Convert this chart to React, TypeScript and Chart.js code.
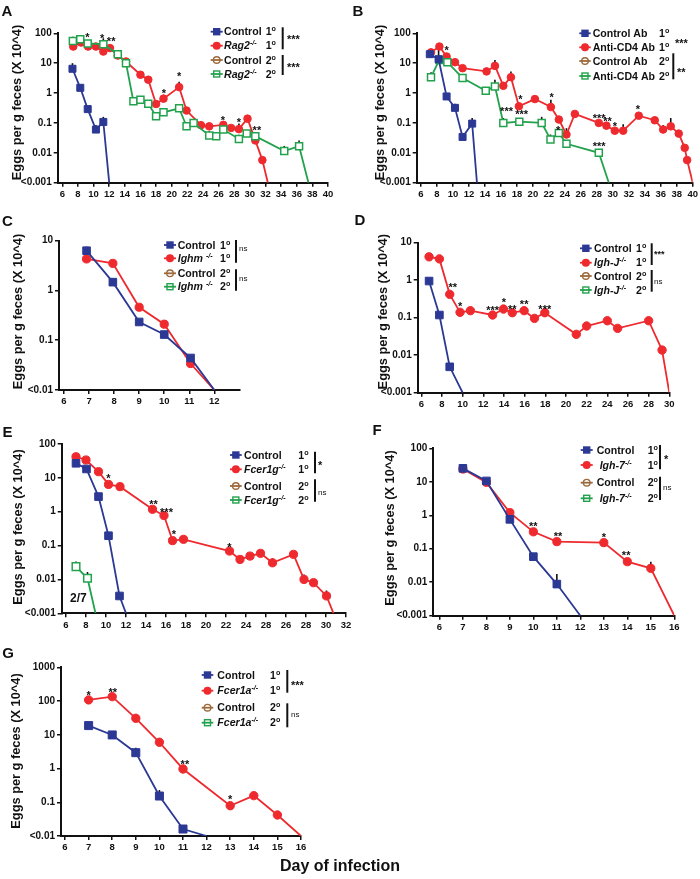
import { useEffect, useRef } from "react";
import { Chart, registerables } from "chart.js";

Chart.register(...registerables);

const FONT = '"Liberation Sans", Arial, Helvetica, sans-serif';
const COLORS = ["#2b3894", "#ee2a2f", "#9c6a3c", "#23a24d"];
const Y_TITLE = "Eggs per g feces (X 10^4)";
const X_TITLE = "Day of infection";

// ---------- tick values / labels ----------
const X_TICKS_6_40 = [6, 8, 10, 12, 14, 16, 18, 20, 22, 24, 26, 28, 30, 32, 34, 36, 38, 40];
const X_LABELS_6_40 = ["6", "8", "10", "12", "14", "16", "18", "20", "22", "24", "26", "28", "30", "32", "34", "36", "38", "40"];
const X_TICKS_C = [6, 7, 8, 9, 10, 11, 12];
const X_LABELS_C = ["6", "7", "8", "9", "10", "11", "12"];
const X_TICKS_D = [6, 8, 10, 12, 14, 16, 18, 20, 22, 24, 26, 28, 30];
const X_LABELS_D = ["6", "8", "10", "12", "14", "16", "18", "20", "22", "24", "26", "28", "30"];
const X_TICKS_E = [6, 8, 10, 12, 14, 16, 18, 20, 22, 24, 26, 28, 30, 32, 34];
const X_LABELS_E = ["6", "8", "10", "12", "14", "16", "18", "20", "22", "24", "28", "26", "28", "30", "32"];
const X_TICKS_6_16 = [6, 7, 8, 9, 10, 11, 12, 13, 14, 15, 16];
const X_LABELS_6_16 = ["6", "7", "8", "9", "10", "11", "12", "13", "14", "15", "16"];

const Y_TICKS_3_2 = [0.001, 0.01, 0.1, 1, 10, 100];
const Y_LABELS_3_2 = ["<0.001", "0.01", "0.1", "1", "10", "100"];
const Y_TICKS_C = [0.01, 0.1, 1, 10];
const Y_LABELS_C = ["<0.01", "0.1", "1", "10"];
const Y_TICKS_D = [0.001, 0.01, 0.1, 1, 10];
const Y_LABELS_D = ["<0.001", "0.01", "0.1", "1", "10"];
const Y_TICKS_G = [0.01, 0.1, 1, 10, 100, 1000];
const Y_LABELS_G = ["<0.01", "0.1", "1", "10", "100", "1000"];

// ---------- data: day of infection / eggs per g feces (x10^4) ----------
// error entries: [day, upper value of error bar]
// Panel A
const A_CTRL1_DAY = [7.3, 8.3, 9.25, 10.3, 11.25, 12];
const A_CTRL1_EGGS = [6.5, 1.5, 0.29, 0.06, 0.108, 0.001];
const A_CTRL1_ERR: [number, number][] = [[7.3, 10], [10.3, 0.085], [11.25, 0.16]];
const A_KO1_DAY = [7.4, 8.4, 9.3, 10.3, 11.25, 12.1, 13.1, 14.15, 16.0, 17.0, 18.0, 18.95, 20.95, 21.9, 23.75, 24.8, 26.6, 27.6, 28.6, 29.7, 30.7, 31.6, 32.3];
const A_KO1_EGGS = [36, 49, 36, 36, 24.5, 32, 18, 11.4, 4.1, 2.8, 0.43, 0.65, 1.58, 0.26, 0.084, 0.077, 0.086, 0.068, 0.062, 0.139, 0.026, 0.0057, 0.001];
const A_KO1_ERR: [number, number][] = [[14.15, 14.7], [16.0, 5], [17.0, 3.6], [18.95, 0.88], [20.95, 2.4], [26.6, 0.11], [28.6, 0.095]];
const A_KO2_DAY = [7.35, 8.3, 9.25, 11.25, 13.1, 14.15, 15.1, 16.0, 17.0, 18.0, 18.95, 20.95, 21.9, 22.8, 24.8, 25.7, 26.6, 28.6, 29.6, 30.7, 34.4, 36.3, 37.5];
const A_KO2_EGGS = [55, 63, 46, 43, 20, 10, 0.53, 0.6, 0.44, 0.167, 0.227, 0.31, 0.077, 0.1, 0.038, 0.036, 0.06, 0.029, 0.044, 0.036, 0.0114, 0.0167, 0.001];
const A_KO2_ERR: [number, number][] = [[7.35, 77], [11.25, 68], [24.8, 0.053], [28.6, 0.04], [30.7, 0.047], [34.4, 0.017], [36.3, 0.026]];
const A_STARS: [number, number, string][] = [[9.2, 88, "*"], [11.1, 81, "*"], [12.25, 65, "**"], [19.0, 1.22, "*"], [20.95, 4.4, "*"], [26.55, 0.154, "*"], [28.6, 0.129, "*"], [30.9, 0.07, "**"]];

// Panel B
const B_CTRL1_DAY = [7.1, 8.2, 9.2, 10.25, 11.2, 12.4, 13.0];
const B_CTRL1_EGGS = [20, 13.6, 0.77, 0.32, 0.034, 0.095, 0.001];
const B_CTRL1_ERR: [number, number][] = [[8.2, 28], [10.25, 0.44], [12.4, 0.146]];
const B_KO1_DAY = [7.25, 8.3, 9.2, 10.25, 11.2, 14.2, 15.25, 16.3, 17.25, 18.25, 20.25, 22.25, 23.25, 24.2, 25.25, 28.25, 29.2, 30.25, 31.3, 33.25, 35.25, 36.3, 37.25, 38.25, 39.0, 39.3, 40];
const B_KO1_EGGS = [23, 36, 16.7, 10.8, 6.8, 5.3, 8.1, 1.75, 3.4, 0.36, 0.63, 0.34, 0.13, 0.041, 0.2, 0.1, 0.081, 0.055, 0.055, 0.175, 0.123, 0.06, 0.077, 0.044, 0.0147, 0.0057, 0.001];
const B_KO1_ERR: [number, number][] = [[15.25, 12.9], [17.25, 5.3], [22.25, 0.6], [24.2, 0.067], [31.3, 0.09], [36.3, 0.085], [37.25, 0.146]];
const B_KO2_DAY = [7.25, 8.3, 9.3, 11.2, 14.1, 15.25, 16.3, 18.3, 21.1, 22.2, 23.25, 24.2, 28.25, 29.5];
const B_KO2_EGGS = [3.4, 12.9, 10.8, 3.2, 1.2, 1.67, 0.1, 0.11, 0.1, 0.028, 0.046, 0.02, 0.01, 0.001];
const B_KO2_ERR: [number, number][] = [[7.25, 5], [14.1, 1.6], [15.25, 2.8], [16.3, 0.145], [21.1, 0.16], [22.2, 0.041]];
const B_STARS: [number, number, string][] = [[9.2, 34, "*"], [18.45, 0.74, "*"], [22.35, 0.88, "*"], [16.7, 0.29, "***"], [18.6, 0.23, "***"], [23.15, 0.068, "*"], [28.3, 0.175, "***"], [29.35, 0.136, "**"], [30.25, 0.093, "*"], [33.15, 0.34, "*"], [28.3, 0.02, "***"]];

// Panel C
const C_CTRL1_DAY = [6.9, 7.95, 9.0, 10.0, 11.05, 12];
const C_CTRL1_EGGS = [6.3, 1.47, 0.233, 0.13, 0.044, 0.01];
const C_CTRL1_ERR: [number, number][] = [[6.9, 7.6]];
const C_KO1_DAY = [6.9, 7.95, 9.0, 10.0, 11.05, 12];
const C_KO1_EGGS = [4.3, 3.5, 0.46, 0.21, 0.034, 0.01];

// Panel D
const D_CTRL1_DAY = [6.75, 7.75, 8.75, 10];
const D_CTRL1_EGGS = [0.95, 0.118, 0.0049, 0.001];
const D_KO1_DAY = [6.75, 7.75, 8.75, 9.75, 10.75, 12.9, 13.95, 14.8, 15.95, 16.95, 17.95, 21.0, 22.0, 24.0, 25.0, 28.0, 29.3, 30];
const D_KO1_EGGS = [4.2, 3.7, 0.42, 0.139, 0.154, 0.118, 0.17, 0.136, 0.154, 0.096, 0.136, 0.036, 0.06, 0.083, 0.052, 0.083, 0.0137, 0.001];
const D_STARS: [number, number, string][] = [[9.05, 0.74, "**"], [9.75, 0.24, "*"], [12.9, 0.19, "***"], [14.0, 0.3, "*"], [14.8, 0.2, "**"], [15.95, 0.27, "**"], [17.95, 0.2, "***"]];

// Panel E (x = position on the printed axis)
const E_CTRL1_DAY = [7.0, 8.05, 9.25, 10.25, 11.35, 12.0];
const E_CTRL1_EGGS = [26.9, 18.3, 2.8, 0.196, 0.00325, 0.001];
const E_KO1_DAY = [7.0, 8.0, 9.25, 10.25, 11.4, 14.65, 15.8, 16.65, 17.75, 22.35, 23.4, 24.4, 25.45, 26.65, 28.75, 29.8, 30.75, 32.05, 32.75];
const E_KO1_EGGS = [42, 33.7, 15.2, 6.4, 5.5, 1.18, 0.77, 0.14, 0.153, 0.069, 0.039, 0.049, 0.059, 0.031, 0.055, 0.01, 0.008, 0.00325, 0.001];
const E_KO1_ERR: [number, number][] = [[26.65, 0.042], [29.8, 0.014], [32.05, 0.0047]];
const E_KO2_DAY = [7.0, 8.15, 8.95];
const E_KO2_EGGS = [0.0239, 0.0108, 0.001];
const E_KO2_ERR: [number, number][] = [[7.0, 0.034], [8.15, 0.0166]];
const E_STARS: [number, number, string][] = [[10.25, 11.3, "*"], [14.75, 1.98, "**"], [16.05, 1.18, "***"], [16.8, 0.26, "*"], [22.35, 0.109, "*"]];
const E_NOTES: [number, number, string][] = [[7.23, 0.0028, "2/7"]];

// Panel F
const F_CTRL1_DAY = [7, 8, 9, 10, 11, 12];
const F_CTRL1_EGGS = [25.2, 10.6, 0.755, 0.058, 0.0088, 0.001];
const F_CTRL1_ERR: [number, number][] = [[11, 0.0176]];
const F_KO1_DAY = [7, 8, 9, 10, 11, 13, 14, 15, 16];
const F_KO1_EGGS = [24, 9.6, 1.2, 0.32, 0.163, 0.152, 0.041, 0.026, 0.001];
const F_KO1_ERR: [number, number][] = [[15, 0.041]];
const F_STARS: [number, number, string][] = [[10.0, 0.57, "**"], [11.05, 0.29, "**"], [13.0, 0.257, "*"], [13.95, 0.078, "**"]];

// Panel G
const G_CTRL1_DAY = [7, 8, 9, 10, 11, 12];
const G_CTRL1_EGGS = [18.7, 9.9, 2.95, 0.153, 0.0161, 0.01];
const G_CTRL1_ERR: [number, number][] = [[9, 4.1], [10, 0.23]];
const G_KO1_DAY = [7, 8, 9, 10, 11, 13, 14, 15, 16];
const G_KO1_EGGS = [108, 135, 30.8, 6.0, 0.97, 0.079, 0.157, 0.042, 0.01];
const G_STARS: [number, number, string][] = [[7, 177, "*"], [8.02, 213, "**"], [11.08, 1.6, "**"], [13, 0.147, "*"]];

// ---------- types ----------
type Seg = { t: string; i?: boolean; sup?: boolean };
type Kind = 0 | 1 | 2 | 3;
interface Series { kind: Kind; days: number[]; eggs: number[]; err?: [number, number][] }
interface SigText { t: string; x: number; y: number; small?: boolean; ns?: boolean }
interface Panel {
  box: number[];
  area: number[];
  xMin: number; xMax: number; xTicks: number[]; xLabels: string[];
  yMin: number; yMax: number; yTicks: number[]; yLabels: string[];
  letter: string; letterAt: number[]; titleAt: number[];
  series: Series[];
  stars: [number, number, string][];
  notes: [number, number, string][];
  legend: { lineX: number[]; textX: number; suffixX: number; rows: number[]; names: Seg[][] };
  bars: number[][];
  sig: SigText[];
  dot: number; sq: number;
}

const ko = (name: string, pre = ""): Seg[] => [
  ...(pre ? [{ t: pre }] : []),
  { t: name, i: true },
  { t: "-/-", i: true, sup: true },
];
const ctrl = (name: string): Seg[] => [{ t: name }];
const names4 = (c: Seg[], k: Seg[]) => [c, k, c, k];

const PANELS: Panel[] = [
  {
    box: [0, 0, 350, 215], area: [57.7, 33.3, 328, 182.7],
    xMin: 5.41, xMax: 40, xTicks: X_TICKS_6_40, xLabels: X_LABELS_6_40,
    yMin: 0.001, yMax: 100, yTicks: Y_TICKS_3_2, yLabels: Y_LABELS_3_2,
    letter: "A", letterAt: [7, 10.5], titleAt: [17.3, 102.5],
    series: [
      { kind: 0, days: A_CTRL1_DAY, eggs: A_CTRL1_EGGS, err: A_CTRL1_ERR },
      { kind: 3, days: A_KO2_DAY, eggs: A_KO2_EGGS, err: A_KO2_ERR },
      { kind: 1, days: A_KO1_DAY, eggs: A_KO1_EGGS, err: A_KO1_ERR },
    ],
    stars: A_STARS, notes: [],
    legend: { lineX: [210.7, 222.7], textX: 224, suffixX: 265.7, rows: [31.7, 45.7, 60, 74], names: names4(ctrl("Control"), ko("Rag2")) },
    bars: [[282.7, 27.3, 49.3], [282.7, 55, 75]],
    sig: [{ t: "***", x: 287, y: 37 }, { t: "***", x: 287, y: 65 }],
    dot: 7.6, sq: 7,
  },
  {
    box: [350, 0, 350, 215], area: [416.7, 33.3, 693.3, 182.7],
    xMin: 5.46, xMax: 40, xTicks: X_TICKS_6_40, xLabels: X_LABELS_6_40,
    yMin: 0.001, yMax: 100, yTicks: Y_TICKS_3_2, yLabels: Y_LABELS_3_2,
    letter: "B", letterAt: [358, 10.5], titleAt: [380, 102.5],
    series: [
      { kind: 0, days: B_CTRL1_DAY, eggs: B_CTRL1_EGGS, err: B_CTRL1_ERR },
      { kind: 3, days: B_KO2_DAY, eggs: B_KO2_EGGS, err: B_KO2_ERR },
      { kind: 1, days: B_KO1_DAY, eggs: B_KO1_EGGS, err: B_KO1_ERR },
    ],
    stars: B_STARS, notes: [],
    legend: { lineX: [579.3, 590.7], textX: 592.7, suffixX: 659, rows: [33.3, 47.3, 61, 76], names: names4(ctrl("Control Ab"), ctrl("Anti-CD4 Ab")) },
    bars: [[673.3, 53.3, 79.3]],
    sig: [{ t: "***", x: 675, y: 41 }, { t: "**", x: 677, y: 69.3 }],
    dot: 7.6, sq: 7,
  },
  {
    box: [0, 215, 350, 205], area: [59, 240.7, 239.4, 390],
    xMin: 5.8, xMax: 13, xTicks: X_TICKS_C, xLabels: X_LABELS_C,
    yMin: 0.01, yMax: 10, yTicks: Y_TICKS_C, yLabels: Y_LABELS_C,
    letter: "C", letterAt: [7.5, 221], titleAt: [18.3, 311.5],
    series: [
      { kind: 0, days: C_CTRL1_DAY, eggs: C_CTRL1_EGGS, err: C_CTRL1_ERR },
      { kind: 1, days: C_KO1_DAY, eggs: C_KO1_EGGS },
    ],
    stars: [], notes: [],
    legend: { lineX: [164, 176], textX: 177.7, suffixX: 220, rows: [245, 258.3, 273.3, 286.7], names: names4(ctrl("Control"), ko("Ighm ")) },
    bars: [[236, 240, 262.7], [236, 269.3, 290.7]],
    sig: [{ t: "ns", x: 239, y: 249, ns: true }, { t: "ns", x: 239, y: 279.3, ns: true }],
    dot: 8.2, sq: 7.6,
  },
  {
    box: [350, 215, 350, 205], area: [417.7, 242.7, 669.3, 392.7],
    xMin: 5.65, xMax: 30, xTicks: X_TICKS_D, xLabels: X_LABELS_D,
    yMin: 0.001, yMax: 10, yTicks: Y_TICKS_D, yLabels: Y_LABELS_D,
    letter: "D", letterAt: [360, 220], titleAt: [383.3, 311.7],
    series: [
      { kind: 0, days: D_CTRL1_DAY, eggs: D_CTRL1_EGGS },
      { kind: 1, days: D_KO1_DAY, eggs: D_KO1_EGGS },
    ],
    stars: D_STARS, notes: [],
    legend: { lineX: [580, 591.7], textX: 594, suffixX: 636, rows: [248.3, 262.7, 276, 290], names: names4(ctrl("Control"), ko("Igh-J")) },
    bars: [[651.7, 243.3, 265], [651.7, 270, 291.7]],
    sig: [{ t: "***", x: 654, y: 252, small: true }, { t: "ns", x: 654, y: 281.7, ns: true }],
    dot: 8.4, sq: 7.6,
  },
  {
    box: [0, 420, 360, 220], area: [61.7, 444, 346, 613.3],
    xMin: 5.57, xMax: 34, xTicks: X_TICKS_E, xLabels: X_LABELS_E,
    yMin: 0.001, yMax: 100, yTicks: Y_TICKS_3_2, yLabels: Y_LABELS_3_2,
    letter: "E", letterAt: [7.5, 431.7], titleAt: [18.3, 527],
    series: [
      { kind: 0, days: E_CTRL1_DAY, eggs: E_CTRL1_EGGS },
      { kind: 3, days: E_KO2_DAY, eggs: E_KO2_EGGS, err: E_KO2_ERR },
      { kind: 1, days: E_KO1_DAY, eggs: E_KO1_EGGS, err: E_KO1_ERR },
    ],
    stars: E_STARS, notes: E_NOTES,
    legend: { lineX: [230, 241.7], textX: 244, suffixX: 298.3, rows: [455, 469.3, 486, 500], names: names4(ctrl("Control"), ko("Fcer1g")) },
    bars: [[315, 451.7, 473.3], [315, 479.3, 501.7]],
    sig: [{ t: "*", x: 318, y: 463 }, { t: "ns", x: 318, y: 493.3, ns: true }],
    dot: 8.2, sq: 7.6,
  },
  {
    box: [350, 420, 350, 220], area: [433.3, 448.3, 674.3, 615.7],
    xMin: 5.74, xMax: 16, xTicks: X_TICKS_6_16, xLabels: X_LABELS_6_16,
    yMin: 0.001, yMax: 100, yTicks: Y_TICKS_3_2, yLabels: Y_LABELS_3_2,
    letter: "F", letterAt: [377, 430], titleAt: [390, 528],
    series: [
      { kind: 0, days: F_CTRL1_DAY, eggs: F_CTRL1_EGGS, err: F_CTRL1_ERR },
      { kind: 1, days: F_KO1_DAY, eggs: F_KO1_EGGS, err: F_KO1_ERR },
    ],
    stars: F_STARS, notes: [],
    legend: { lineX: [580.7, 592.7], textX: 596.7, suffixX: 647.7, rows: [450, 465, 482.7, 498.3], names: names4(ctrl("Control"), ko("Igh-7", " ")) },
    bars: [[660, 445, 469.3], [660, 476.7, 500]],
    sig: [{ t: "*", x: 664, y: 457 }, { t: "ns", x: 663, y: 488.3, ns: true }],
    dot: 8.2, sq: 7.6,
  },
  {
    box: [0, 640, 350, 239], area: [61, 667.3, 301, 836],
    xMin: 5.83, xMax: 16, xTicks: X_TICKS_6_16, xLabels: X_LABELS_6_16,
    yMin: 0.01, yMax: 1000, yTicks: Y_TICKS_G, yLabels: Y_LABELS_G,
    letter: "G", letterAt: [8, 653], titleAt: [16.7, 751],
    series: [
      { kind: 0, days: G_CTRL1_DAY, eggs: G_CTRL1_EGGS, err: G_CTRL1_ERR },
      { kind: 1, days: G_KO1_DAY, eggs: G_KO1_EGGS },
    ],
    stars: G_STARS, notes: [],
    legend: { lineX: [201.7, 213.3], textX: 217.3, suffixX: 270, rows: [675, 690.7, 707.7, 722.7], names: names4(ctrl("Control"), ko("Fcer1a")) },
    bars: [[287.3, 670, 692.7], [287.3, 703.3, 727.3]],
    sig: [{ t: "***", x: 291, y: 682.7 }, { t: "ns", x: 291, y: 715, ns: true }],
    dot: 8.4, sq: 8,
  },
];

const LEGEND_SIZE = 10.6;

// ---------- drawing helpers ----------
function drawRich(ctx: CanvasRenderingContext2D, segs: Seg[], x: number, y: number, size: number) {
  let cx = x;
  const base = y + size * 0.358;
  ctx.textAlign = "left";
  ctx.textBaseline = "alphabetic";
  for (const s of segs) {
    const fs = s.sup ? size * 0.68 : size;
    ctx.font = `${s.i ? "italic " : ""}bold ${fs}px ${FONT}`;
    ctx.fillText(s.t, cx, s.sup ? base - size * 0.4 : base);
    cx += ctx.measureText(s.t).width;
  }
}

function drawMarker(ctx: CanvasRenderingContext2D, kind: Kind, x: number, y: number, s: number) {
  const c = COLORS[kind];
  ctx.strokeStyle = c;
  ctx.fillStyle = c;
  ctx.lineWidth = 1.4;
  if (kind === 0) {
    ctx.fillRect(x - s / 2, y - s / 2, s, s);
  } else if (kind === 1) {
    ctx.beginPath();
    ctx.arc(x, y, s / 2 + 0.3, 0, Math.PI * 2);
    ctx.fill();
  } else if (kind === 2) {
    ctx.beginPath();
    ctx.arc(x, y, s / 2 - 0.4, 0, Math.PI * 2);
    ctx.stroke();
  } else {
    ctx.strokeRect(x - s / 2 + 0.7, y - s / 2 + 0.7, s - 1.4, s - 1.4);
  }
}

function drawErrors(chart: Chart, p: Panel) {
  const ctx = chart.ctx;
  const xs = chart.scales.x;
  const ys = chart.scales.y;
  ctx.save();
  ctx.strokeStyle = "#111";
  ctx.lineWidth = 1.6;
  for (const s of p.series) {
    if (!s.err) continue;
    for (const [d, hi] of s.err) {
      const idx = s.days.indexOf(d);
      if (idx < 0) continue;
      const px = xs.getPixelForValue(d);
      ctx.beginPath();
      ctx.moveTo(px, ys.getPixelForValue(s.eggs[idx]));
      ctx.lineTo(px, ys.getPixelForValue(hi));
      ctx.stroke();
    }
  }
  ctx.restore();
}

function drawDeco(chart: Chart, p: Panel) {
  const ctx = chart.ctx;
  const ox = p.box[0];
  const oy = p.box[1];
  const xs = chart.scales.x;
  const ys = chart.scales.y;
  ctx.save();
  ctx.fillStyle = "#111";

  // panel letter
  ctx.font = `bold 15px ${FONT}`;
  ctx.textAlign = "center";
  ctx.textBaseline = "alphabetic";
  ctx.fillText(p.letter, p.letterAt[0] - ox, p.letterAt[1] - oy + 15 * 0.358);

  // y title
  ctx.save();
  ctx.translate(p.titleAt[0] - ox, p.titleAt[1] - oy);
  ctx.rotate(-Math.PI / 2);
  ctx.font = `bold 12.8px ${FONT}`;
  ctx.textAlign = "center";
  ctx.textBaseline = "middle";
  ctx.fillText(Y_TITLE, 0, 0);
  ctx.restore();

  // stars above points
  ctx.font = `bold 11px ${FONT}`;
  ctx.textAlign = "center";
  ctx.textBaseline = "alphabetic";
  for (const [d, v, t] of p.stars) {
    ctx.fillText(t, xs.getPixelForValue(d), ys.getPixelForValue(v) + 11 * 0.57);
  }
  for (const [d, v, t] of p.notes) {
    ctx.font = `bold 12px ${FONT}`;
    ctx.fillText(t, xs.getPixelForValue(d), ys.getPixelForValue(v) + 12 * 0.358);
  }

  // legend
  const lg = p.legend;
  const kinds: Kind[] = [0, 1, 2, 3];
  lg.rows.forEach((ry, r) => {
    const y = ry - oy;
    const k = kinds[r];
    ctx.strokeStyle = COLORS[k];
    ctx.lineWidth = 1.8;
    ctx.beginPath();
    ctx.moveTo(lg.lineX[0] - ox, y);
    ctx.lineTo(lg.lineX[1] - ox, y);
    ctx.stroke();
    drawMarker(ctx, k, (lg.lineX[0] + lg.lineX[1]) / 2 - ox, y, 7.4);
    ctx.fillStyle = "#111";
    drawRich(ctx, lg.names[r], lg.textX - ox, y, LEGEND_SIZE);
    drawRich(ctx, [{ t: r < 2 ? "1" : "2" }, { t: "o", sup: true }], lg.suffixX - ox, y, LEGEND_SIZE);
  });

  // significance bars
  ctx.strokeStyle = "#111";
  ctx.lineWidth = 2;
  for (const [bx, y1, y2] of p.bars) {
    ctx.beginPath();
    ctx.moveTo(bx - ox, y1 - oy);
    ctx.lineTo(bx - ox, y2 - oy);
    ctx.stroke();
  }
  ctx.fillStyle = "#111";
  ctx.textAlign = "left";
  for (const s of p.sig) {
    if (s.ns) {
      ctx.font = `8px ${FONT}`;
      ctx.fillText(s.t, s.x - ox, s.y - oy + 8 * 0.26);
    } else {
      const fs = s.small ? 9 : 11;
      ctx.font = `bold ${fs}px ${FONT}`;
      ctx.fillText(s.t, s.x - ox, s.y - oy + fs * 0.57);
    }
  }
  ctx.restore();
}

function buildConfig(p: Panel): any {
  const [bx, by, bw, bh] = p.box;
  const [L, T, R, B] = p.area;
  const datasets = p.series.map((s) => {
    const k = s.kind;
    const sq = k === 0 || k === 3;
    const r = sq ? p.sq / Math.SQRT2 : p.dot / 2;
    return {
      data: s.days.map((d, i) => ({ x: d, y: s.eggs[i] })),
      borderColor: COLORS[k],
      borderWidth: 1.8,
      pointStyle: sq ? "rect" : "circle",
      pointBackgroundColor: k === 3 || k === 2 ? "#fff" : COLORS[k],
      pointBorderColor: COLORS[k],
      pointBorderWidth: k >= 2 ? 1.5 : 1,
      pointRadius: (c: any) => (c.raw && c.raw.y <= p.yMin * 1.0001 ? 0 : r),
      pointHoverRadius: 0,
      tension: 0,
      fill: false,
    };
  });
  const tickFont = { family: FONT, size: 10, weight: "bold" as const };
  return {
    type: "line",
    data: { datasets },
    options: {
      animation: false,
      responsive: false,
      devicePixelRatio: 1,
      events: [],
      layout: { padding: { left: 0, top: T - by, right: bx + bw - R, bottom: 0 } },
      plugins: { legend: { display: false }, tooltip: { enabled: false } },
      scales: {
        x: {
          type: "linear",
          min: p.xMin,
          max: p.xMax,
          afterBuildTicks: (s: any) => {
            s.ticks = p.xTicks.map((v) => ({ value: v }));
          },
          afterFit: (s: any) => {
            s.height = by + bh - B;
          },
          ticks: {
            callback: (_v: any, i: number) => p.xLabels[i],
            font: { ...tickFont, size: 9.5 },
            color: "#111",
            padding: 2,
            autoSkip: false,
            maxRotation: 0,
            minRotation: 0,
          },
          grid: { drawOnChartArea: false, drawTicks: true, tickLength: 4, color: "#111", lineWidth: 1.5 },
          border: { display: true, color: "#111", width: 2 },
        },
        y: {
          type: "logarithmic",
          min: p.yMin,
          max: p.yMax,
          afterBuildTicks: (s: any) => {
            s.ticks = p.yTicks.map((v) => ({ value: v }));
          },
          afterFit: (s: any) => {
            s.width = L - bx;
          },
          ticks: {
            callback: (_v: any, i: number) => p.yLabels[i],
            font: tickFont,
            color: "#111",
            padding: 2,
            autoSkip: false,
          },
          grid: { drawOnChartArea: false, drawTicks: true, tickLength: 4, color: "#111", lineWidth: 1.5 },
          border: { display: true, color: "#111", width: 2 },
        },
      },
    },
    plugins: [
      {
        id: "deco",
        beforeDatasetsDraw: (chart: Chart) => drawErrors(chart, p),
        afterDraw: (chart: Chart) => drawDeco(chart, p),
      },
    ],
  };
}

function PanelChart({ p }: { p: Panel }) {
  const ref = useRef<HTMLCanvasElement>(null);
  useEffect(() => {
    const chart = new Chart(ref.current as HTMLCanvasElement, buildConfig(p));
    return () => chart.destroy();
  }, [p]);
  const [x, y, w, h] = p.box;
  return (
    <canvas
      ref={ref}
      width={w}
      height={h}
      style={{ position: "absolute", left: x, top: y, width: w, height: h }}
    />
  );
}

export default function App() {
  return (
    <div style={{ position: "absolute", left: 0, top: 0, width: 700, height: 879, background: "#fff", overflow: "hidden" }}>
      {PANELS.map((p) => (
        <PanelChart key={p.letter} p={p} />
      ))}
      <div
        style={{
          position: "absolute",
          left: 240,
          top: 856,
          width: 200,
          textAlign: "center",
          font: `bold 16px ${FONT}`,
          lineHeight: "20px",
          color: "#111",
        }}
      >
        {X_TITLE}
      </div>
    </div>
  );
}
